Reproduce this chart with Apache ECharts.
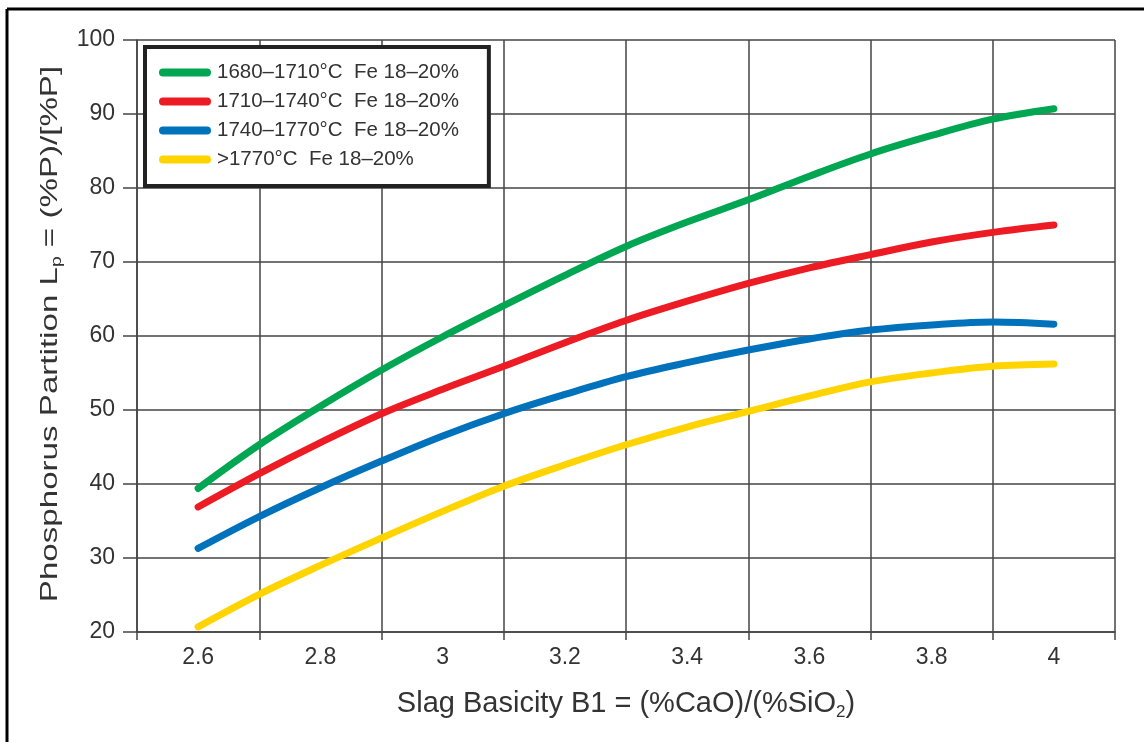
<!DOCTYPE html>
<html>
<head>
<meta charset="utf-8">
<script src="https://cdn.jsdelivr.net/npm/echarts@6/dist/echarts.min.js"></script>
<style>
  html, body { margin: 0; padding: 0; background: #fff; }
  #chart { width: 1144px; height: 742px; }
</style>
</head>
<body>
<div id="chart"></div>
<script>
// Slag basicity B1 values where each curve is sampled
const basicity = [2.6, 2.7, 2.8, 2.9, 3.0, 3.1, 3.2, 3.3, 3.4, 3.5, 3.6, 3.7, 3.8, 3.9, 4.0];

// Phosphorus partition Lp for each temperature band (Fe 18–20%)
const lp1680 = [39.4, 45.3, 50.5, 55.4, 59.9, 64.1, 68.2, 72.1, 75.4, 78.4, 81.6, 84.6, 87.1, 89.3, 90.7];
const lp1710 = [36.9, 41.4, 45.6, 49.5, 52.8, 55.9, 59.1, 62.1, 64.7, 67.1, 69.2, 71.0, 72.7, 74.0, 75.0];
const lp1740 = [31.3, 35.6, 39.5, 43.1, 46.5, 49.5, 52.1, 54.5, 56.4, 58.1, 59.6, 60.8, 61.5, 61.9, 61.6];
const lp1770 = [20.7, 25.1, 29.0, 32.7, 36.3, 39.7, 42.6, 45.3, 47.7, 49.8, 51.9, 53.8, 55.0, 55.9, 56.2];

const seriesNames = [
  '1680–1710°C  Fe 18–20%',
  '1710–1740°C  Fe 18–20%',
  '1740–1770°C  Fe 18–20%',
  '>1770°C  Fe 18–20%'
];
const seriesColors = ['#00a651', '#ed1c24', '#0072bc', '#ffd400'];
const seriesValues = [lp1680, lp1710, lp1740, lp1770];

const FONT = '"Liberation Sans", Arial, Helvetica, sans-serif';
const INK = '#333333';
const GRID = '#444444';

const chart = echarts.init(document.getElementById('chart'), null, { renderer: 'canvas' });

const series = seriesValues.map((vals, i) => ({
  name: seriesNames[i],
  type: 'line',
  xAxisIndex: 0,
  smooth: 0.35,
  symbol: 'none',
  data: basicity.map((b, k) => [b, vals[k]]),
  lineStyle: { color: seriesColors[i], width: 7, cap: 'round', join: 'round' },
  itemStyle: { color: seriesColors[i] },
  z: 10 - i
}));

chart.setOption({
  animation: false,
  backgroundColor: '#ffffff',
  textStyle: { fontFamily: FONT },
  grid: { left: 137, right: 29, top: 40, bottom: 110, containLabel: false },
  graphic: [
    { type: 'line', shape: { x1: 7, y1: 9, x2: 1144, y2: 9 }, style: { stroke: '#000', lineWidth: 3 }, z: 100 },
    { type: 'line', shape: { x1: 7, y1: 9, x2: 7, y2: 742 }, style: { stroke: '#000', lineWidth: 3 }, z: 100 },
    {
      // vertical axis title, set in a tall, narrow face
      type: 'text',
      x: 50,
      y: 334,
      rotation: Math.PI / 2,
      scaleX: 1.38,
      scaleY: 1,
      z: 50,
      style: {
        text: 'Phosphorus Partition L{sub|p} = (%P)/[%P]',
        fontFamily: FONT,
        fontSize: 24,
        fill: INK,
        align: 'center',
        verticalAlign: 'middle',
        rich: { sub: { fontFamily: FONT, fontSize: 14, fill: INK, padding: [14, 0, 0, 0] } }
      }
    }
  ],
  legend: {
    orient: 'vertical',
    left: 145,
    top: 47,
    padding: [15, 30, 16, 14],
    itemGap: 8,
    itemWidth: 52,
    itemHeight: 8,
    icon: 'path://M4,0 H48 A4,4 0 0 1 48,8 H4 A4,4 0 0 1 4,0 Z',
    borderColor: '#222',
    borderWidth: 4,
    backgroundColor: '#fff',
    textStyle: { fontFamily: FONT, fontSize: 20.5, color: INK, lineHeight: 20, padding: [0, 0, 0, 1] },
    data: seriesNames.map((n, i) => ({ name: n, itemStyle: { color: seriesColors[i] } }))
  },
  xAxis: [
    {
      // grid cells and tick marks between the labelled basicity values
      type: 'value',
      min: 2.5,
      max: 4.1,
      interval: 0.2,
      position: 'bottom',
      axisLine: { show: true, lineStyle: { color: GRID, width: 1.5 } },
      axisTick: { show: true, length: 8, inside: false, lineStyle: { color: GRID, width: 1.5 } },
      axisLabel: { show: false },
      splitLine: { show: true, lineStyle: { color: GRID, width: 1.5 } },
      name: 'Slag Basicity B1 = (%CaO)/(%SiO{sub|2})',
      nameLocation: 'middle',
      nameGap: 55,
      nameTextStyle: {
        fontFamily: FONT, fontSize: 29, color: INK,
        rich: { sub: { fontFamily: FONT, fontSize: 17, color: INK, padding: [17, 0, 0, 0] } }
      }
    },
    {
      // labels centred inside each cell
      type: 'value',
      min: 2.5,
      max: 4.1,
      interval: 0.1,
      position: 'bottom',
      axisLine: { show: false },
      axisTick: { show: false },
      splitLine: { show: false },
      axisLabel: {
        show: true,
        margin: 14,
        fontFamily: FONT,
        fontSize: 23,
        color: INK,
        formatter: v => (Math.round(v * 10) % 2 === 0 ? String(Math.round(v * 10) / 10) : '')
      }
    }
  ],
  yAxis: {
    type: 'value',
    min: 20,
    max: 100,
    interval: 10,
    axisLine: { show: true, lineStyle: { color: GRID, width: 1.5 } },
    axisTick: { show: true, length: 14, lineStyle: { color: GRID, width: 1.5 } },
    axisLabel: { margin: 22, fontFamily: FONT, fontSize: 23, color: INK },
    splitLine: { show: true, lineStyle: { color: GRID, width: 1.5 } }
  },
  series: series
});
</script>
</body>
</html>
